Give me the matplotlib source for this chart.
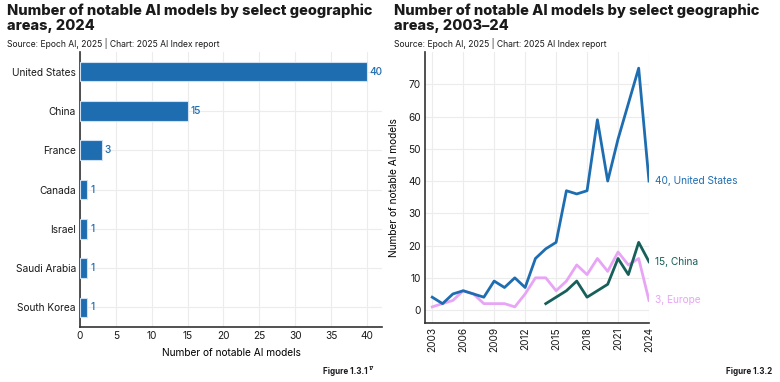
import numpy as np
import matplotlib.pyplot as plt

# ---- data ----
countries = ["United States", "China", "France", "Canada", "Israel", "Saudi Arabia", "South Korea"]
models_2024 = [40, 15, 3, 1, 1, 1, 1]

years = list(range(2003, 2025))
us = [4, 2, 5, 6, 5, 4, 9, 7, 10, 7, 16, 19, 21, 37, 36, 37, 59, 40, 53, 64, 75, 40]
europe = [1, 2, 3, 6, 5, 2, 2, 2, 1, 5, 10, 10, 6, 9, 14, 11, 16, 12, 18, 14, 16, 3]
china_years = list(range(2014, 2025))
china = [2, 4, 6, 9, 4, 6, 8, 16, 11, 21, 15]

BLUE = "#1f6db1"
TEAL = "#17605a"
PINK = "#e8a5f6"
GRID = "#ececec"

plt.rcParams['font.family'] = ['Inter', 'DejaVu Sans']
plt.rcParams['font.size'] = 7.3
plt.rcParams['text.color'] = "#1a1a1a"
plt.rcParams['xtick.color'] = "#1a1a1a"
plt.rcParams['ytick.color'] = "#1a1a1a"

fig = plt.figure(figsize=(7.8, 3.82), dpi=100)

# ---- left: bar chart ----
ax1 = fig.add_axes([80/780, 1 - 327/382, 302/780, (327 - 52)/382])
ypos = np.arange(len(countries))
ax1.barh(ypos, models_2024, height=0.5, color=BLUE, edgecolor="#cfe0f2", linewidth=0.8, zorder=3)
for y, v in zip(ypos, models_2024):
    ax1.text(v + 0.4, y, str(v), color=BLUE, va="center", ha="left", fontsize=7.3, fontweight="medium")
ax1.set_yticks(ypos)
ax1.set_yticklabels(countries)
ax1.set_ylim(len(countries) - 0.5, -0.5)
ax1.set_xlim(0, 42.1)
ax1.set_xticks(range(0, 45, 5))
ax1.set_xlabel("Number of notable AI models", fontsize=7.3, labelpad=5)
ax1.grid(True, color=GRID, linewidth=0.8, zorder=0)
ax1.tick_params(length=0, pad=3)
for s in ["top", "right"]:
    ax1.spines[s].set_visible(False)
for s in ["left", "bottom"]:
    ax1.spines[s].set_color("#333333")
    ax1.spines[s].set_linewidth(1.2)

# ---- right: line chart ----
ax2 = fig.add_axes([425/780, 1 - 323/382, (649 - 425)/780, (323 - 52)/382])
ax2.plot(years, us, color=BLUE, linewidth=2, zorder=3)
ax2.plot(years, europe, color=PINK, linewidth=2, zorder=2)
ax2.plot(china_years, china, color=TEAL, linewidth=2, zorder=4)
ax2.text(2024.6, us[-1], f"{us[-1]}, United States", color=BLUE, va="center", fontsize=7.3)
ax2.text(2024.6, china[-1], f"{china[-1]}, China", color=TEAL, va="center", fontsize=7.3)
ax2.text(2024.6, europe[-1], f"{europe[-1]}, Europe", color=PINK, va="center", fontsize=7.3)
ax2.set_xlim(2002.3, 2024)
ax2.set_ylim(-4, 80)
ax2.set_xticks(range(2003, 2025, 3))
ax2.set_xticklabels([str(y) for y in range(2003, 2025, 3)], rotation=90)
ax2.set_yticks(range(0, 80, 10))
ax2.set_ylabel("Number of notable AI models", fontsize=7.3)
ax2.yaxis.set_label_coords(-0.115, 0.5)
ax2.grid(True, color=GRID, linewidth=0.8, zorder=0)
ax2.tick_params(length=0, pad=3)
for s in ["top", "right"]:
    ax2.spines[s].set_visible(False)
for s in ["left", "bottom"]:
    ax2.spines[s].set_color("#333333")
    ax2.spines[s].set_linewidth(1.2)

# ---- titles ----
fig.text(7/780, 1 - 4/382, "Number of notable AI models by select geographic\nareas, 2024",
         fontsize=10.5, fontweight="heavy", va="top", ha="left", linespacing=1.05)
fig.text(7/780, 1 - 38/382, "Source: Epoch AI, 2025 | Chart: 2025 AI Index report",
         fontsize=6.2, va="top", ha="left")
fig.text(394/780, 1 - 4/382, "Number of notable AI models by select geographic\nareas, 2003\u201324",
         fontsize=10.5, fontweight="heavy", va="top", ha="left", linespacing=1.05)
fig.text(394/780, 1 - 38/382, "Source: Epoch AI, 2025 | Chart: 2025 AI Index report",
         fontsize=6.2, va="top", ha="left")
fig.text(368/780, 1 - 376/382, "Figure 1.3.1", fontsize=5.8, fontweight="bold", ha="right", va="bottom")
fig.text(368.5/780, 1 - 371/382, "17", fontsize=3.8, fontweight="bold", ha="left", va="bottom")
fig.text(772/780, 1 - 376/382, "Figure 1.3.2", fontsize=5.8, fontweight="bold", ha="right", va="bottom")

fig.savefig("out.png", dpi=100, facecolor="white")
